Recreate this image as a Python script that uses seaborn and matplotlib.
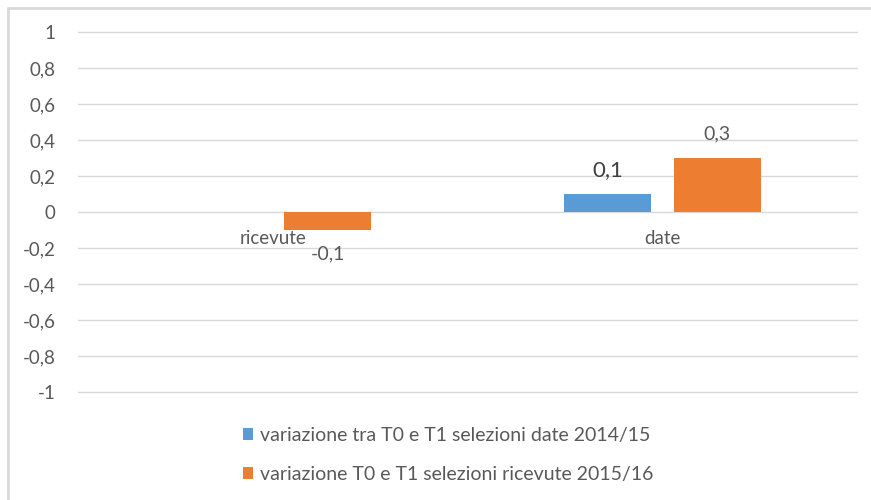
import numpy as np
import pandas as pd
import matplotlib
matplotlib.use("Agg")
import matplotlib.pyplot as plt
from matplotlib.patches import Patch
from matplotlib.lines import Line2D
from matplotlib.ticker import FuncFormatter, MultipleLocator
import seaborn as sns

# Chart data
categories = ["ricevute", "date"]
series_names = [
    "variazione tra T0 e T1 selezioni date 2014/15",
    "variazione T0 e T1 selezioni ricevute 2015/16",
]
values_2014 = [np.nan, 0.1]
values_2015 = [-0.1, 0.3]
series_colors = ["#5B9BD5", "#ED7D31"]

df = pd.DataFrame({
    "categoria": categories * 2,
    "serie": [series_names[0]] * 2 + [series_names[1]] * 2,
    "valore": values_2014 + values_2015,
})

sns.set_theme(style="white")
plt.rcParams["font.family"] = ["Lato", "DejaVu Sans"]

W, H = 871, 500
fig = plt.figure(figsize=(W / 100, H / 100), dpi=100)
ax = fig.add_axes([78 / W, 1 - 392 / H, (857 - 78) / W, (392 - 32) / H])

sns.barplot(
    data=df.dropna(), x="categoria", y="valore", hue="serie",
    order=categories, hue_order=series_names, palette=series_colors,
    width=0.564, gap=0.21, saturation=1, errorbar=None, legend=False, ax=ax,
    linewidth=0,
)

ax.set_xlim(-0.5, 1.5)
ax.set_ylim(-1, 1)
ax.yaxis.set_major_locator(MultipleLocator(0.2))


def comma_fmt(v, _pos=None):
    v = round(v, 2)
    if abs(v) < 1e-9:
        return "0"
    return f"{v:g}".replace(".", ",")


ax.yaxis.set_major_formatter(FuncFormatter(comma_fmt))
ax.grid(axis="y", color="#D9D9D9", linewidth=1.0)
for gl in ax.get_ygridlines():
    gl.set_clip_on(False)
ax.set_axisbelow(True)
for side in ["top", "right", "left"]:
    ax.spines[side].set_visible(False)
# category labels sit just under the zero line
ax.spines["bottom"].set_position(("data", 0))
ax.spines["bottom"].set_visible(False)

ax.tick_params(axis="y", length=0, pad=16, labelsize=13.5, labelcolor="#595959")
ax.tick_params(axis="x", length=0, pad=13, labelsize=13.5, labelcolor="#595959")
ax.set_xlabel("")
ax.set_ylabel("")

# Value labels
offsets = [-0.141, 0.141]
for si, vals in enumerate([values_2014, values_2015]):
    for ci, v in enumerate(vals):
        if np.isnan(v):
            continue
        x = ci + offsets[si]
        dy = 24 if v >= 0 else -24
        big = si == 0
        ax.annotate(
            comma_fmt(v), xy=(x, v), xytext=(0, dy), textcoords="offset pixels",
            ha="center", va="center",
            fontsize=16 if big else 14,
            color="#404040" if big else "#595959",
        )

# Legend below the plot
handles = [Patch(facecolor=c, edgecolor="none") for c in series_colors]
fig.legend(
    handles, series_names, loc="center left",
    bbox_to_anchor=(235 / W, 1 - 455 / H), frameon=False, ncol=1,
    fontsize=14, labelcolor="#595959", handlelength=0.55, handleheight=0.55,
    handletextpad=0.35, labelspacing=1.15, borderaxespad=0,
)

# Chart area border (top and left edges)
border_kw = dict(color="#D9D9D9", linewidth=2.0, transform=fig.transFigure)
fig.add_artist(Line2D([8 / W, 8 / W], [0, 1 - 8 / H], **border_kw))
fig.add_artist(Line2D([8 / W, 1], [1 - 8 / H, 1 - 8 / H], **border_kw))

fig.savefig("out.png", dpi=100)
